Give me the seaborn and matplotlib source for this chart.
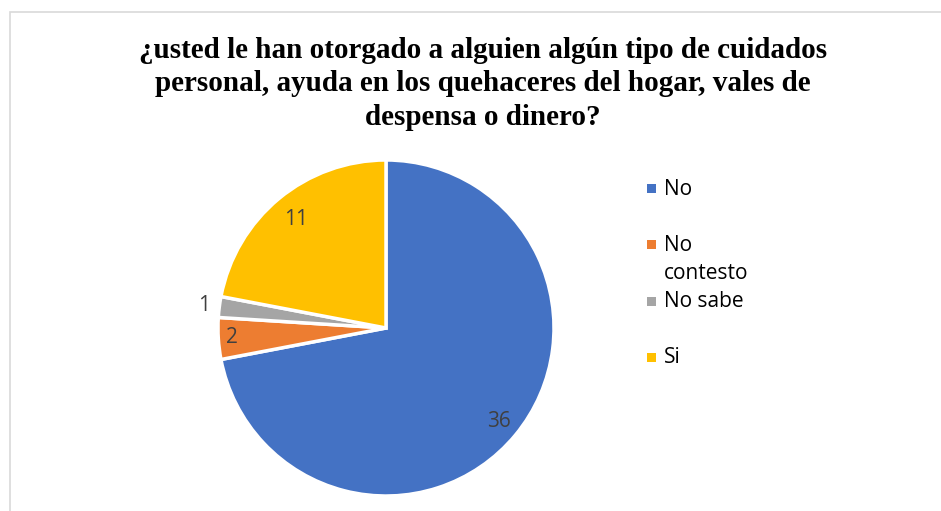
import numpy as np
import matplotlib
matplotlib.use("Agg")
import matplotlib.pyplot as plt
import seaborn as sns
from matplotlib.patches import Rectangle

# --- Data ---
categories = ["No", "No contesto", "No sabe", "Si"]
legend_labels = ["No", "No\ncontesto", "No sabe", "Si"]
counts = [36, 2, 1, 11]
colors = ["#4472C4", "#ED7D31", "#A5A5A5", "#FFC000"]
title = ("¿usted le han otorgado a alguien algún tipo de cuidados\n"
         "personal, ayuda en los quehaceres del hogar, vales de\n"
         "despensa o dinero?")

sns.set_theme(style="white")
plt.rcParams['font.family'] = ['DejaVu Sans']

W, H = 941, 511
fig = plt.figure(figsize=(W / 100, H / 100), dpi=100)
fig.patch.set_facecolor("white")

# chart area border (cut off at right and bottom like the reference)
fig.patches.append(Rectangle((10 / W, -0.05), 1.0, 1 - 12 / H + 0.05,
                             transform=fig.transFigure, fill=False,
                             edgecolor="#D9D9D9", linewidth=1.2))

# pie axes: centre (386, 328) px, radius 168 px
cx, cy, r = 386, 328, 168
ax = fig.add_axes([(cx - r) / W, (H - cy - r) / H, 2 * r / W, 2 * r / H])

wedges, texts, autotexts = ax.pie(
    counts, colors=colors, startangle=90, counterclock=False,
    autopct=lambda p: f"{round(p * sum(counts) / 100):d}",
    pctdistance=0.84,
    wedgeprops=dict(edgecolor="white", linewidth=2.5),
    textprops=dict(color="#404040", fontsize=15, family="Open Sans"))
ax.set_xlim(-1, 1)
ax.set_ylim(-1, 1)
ax.axis("off")

# small slices: push their labels further out
for w, t, dist in zip(wedges, autotexts, [0.87, 0.92, 1.09, 0.84]):
    mid = np.deg2rad((w.theta1 + w.theta2) / 2)
    t.set_position((dist * np.cos(mid), dist * np.sin(mid)))

# title
fig.text(483 / W, 1 - 37 / H, title, ha="center", va="top",
         fontsize=21, fontweight="bold", family="Liberation Serif",
         linespacing=1.3, color="black")

# legend drawn to mimic Excel layout
leg_y = [189, 245, 301, 357]
for lab, col, y in zip(legend_labels, colors, leg_y):
    fig.patches.append(Rectangle(((651 - 4.5) / W, 1 - (y + 4.5) / H), 9 / W, 9 / H,
                                 transform=fig.transFigure, facecolor=col,
                                 edgecolor="none"))
    fig.text(664 / W, 1 - (y - 10) / H, lab, ha="left", va="top",
             fontsize=15, family="Open Sans", color="black", linespacing=1.45)

fig.savefig("out.png", dpi=100, facecolor="white")
